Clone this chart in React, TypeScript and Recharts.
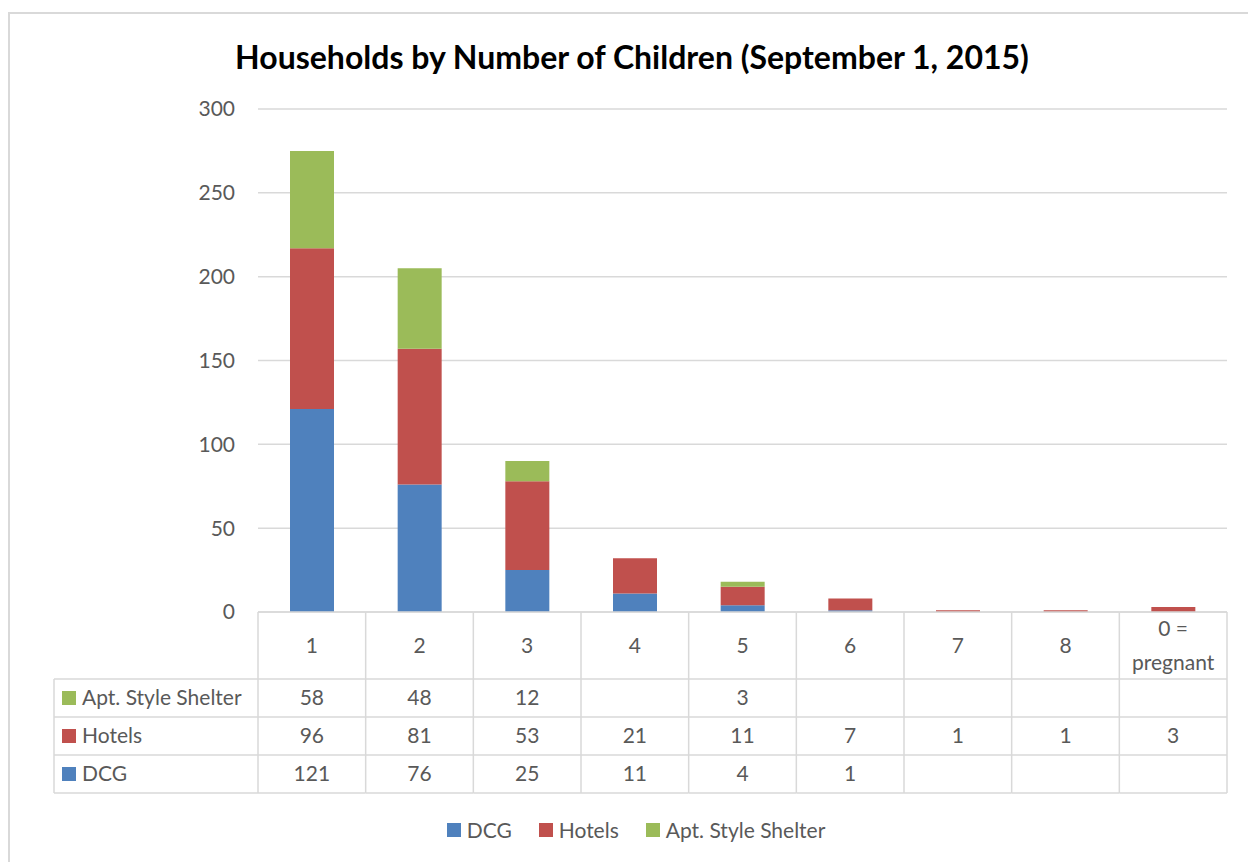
import { Bar, BarChart, CartesianGrid, Legend, XAxis, YAxis } from "recharts";

const categories = ["1", "2", "3", "4", "5", "6", "7", "8", "0 = pregnant"];
const dcg = [121, 76, 25, 11, 4, 1, null, null, null];
const hotels = [96, 81, 53, 21, 11, 7, 1, 1, 3];
const aptShelter = [58, 48, 12, null, 3, null, null, null, null];
const yTicks = [0, 50, 100, 150, 200, 250, 300];

const series = [
  { key: "dcg", name: "DCG", color: "#4F81BD", values: dcg },
  { key: "hotels", name: "Hotels", color: "#C0504D", values: hotels },
  { key: "apt", name: "Apt. Style Shelter", color: "#9BBB59", values: aptShelter },
];
// the data table lists the series top-down in reverse order
const tableRows = [...series].reverse();

const data = categories.map((c, i) => ({
  category: c,
  dcg: dcg[i],
  hotels: hotels[i],
  apt: aptShelter[i],
}));

const W = 1248;
const H = 862;
const PLOT_LEFT = 258;
const PLOT_RIGHT = 1227;
const HEADER_H = 67;
const ROW_H = 38;
const LABEL_COL_LEFT = 54;
const FONT = "Lato, 'Open Sans', sans-serif";
const FS = 21;
const TEXT = "#595959";
const LINE = "#d9d9d9";

function TableColumn(props: any) {
  const { x, y, index, payload } = props;
  const cw = (PLOT_RIGHT - PLOT_LEFT) / categories.length;
  const left = x - cw / 2;
  const right = x + cw / 2;
  const bottom = y + HEADER_H + ROW_H * tableRows.length;
  const label: string = payload.value;
  const parts = label.includes(" = ") ? [label.split(" = ")[0] + " =", label.split(" = ")[1]] : [label];
  const headerMid = y + HEADER_H / 2;

  return (
    <g fontFamily={FONT} fontSize={FS} fill={TEXT}>
      {index === 0 && <line x1={left} x2={left} y1={y} y2={bottom} stroke={LINE} strokeWidth={1.5} />}
      <line x1={right} x2={right} y1={y} y2={bottom} stroke={LINE} strokeWidth={1.5} />
      <line x1={left} x2={right} y1={y} y2={y} stroke={LINE} strokeWidth={1.5} />
      <line x1={left} x2={right} y1={y + HEADER_H} y2={y + HEADER_H} stroke={LINE} strokeWidth={1.5} />
      {parts.map((p, k) => (
        <text key={k} x={x} y={headerMid + (k - (parts.length - 1) / 2) * 34} textAnchor="middle" dy="0.35em" fill={TEXT}>
          {p}
        </text>
      ))}
      {tableRows.map((s, r) => {
        const top = y + HEADER_H + r * ROW_H;
        const v = s.values[index];
        return (
          <g key={s.key}>
            <line x1={left} x2={right} y1={top + ROW_H} y2={top + ROW_H} stroke={LINE} strokeWidth={1.5} />
            {v != null && (
              <text x={x} y={top + ROW_H / 2} textAnchor="middle" dy="0.35em" fill={TEXT}>
                {v}
              </text>
            )}
          </g>
        );
      })}
      {index === 0 && (
        <g>
          <line x1={LABEL_COL_LEFT} x2={LABEL_COL_LEFT} y1={y + HEADER_H} y2={bottom} stroke={LINE} strokeWidth={1.5} />
          <line x1={LABEL_COL_LEFT} x2={left} y1={y + HEADER_H} y2={y + HEADER_H} stroke={LINE} strokeWidth={1.5} />
          {tableRows.map((s, r) => {
            const top = y + HEADER_H + r * ROW_H;
            return (
              <g key={s.key}>
                <line x1={LABEL_COL_LEFT} x2={left} y1={top + ROW_H} y2={top + ROW_H} stroke={LINE} strokeWidth={1.5} />
                <rect x={LABEL_COL_LEFT + 8} y={top + ROW_H / 2 - 7} width={14} height={14} fill={s.color} />
                <text x={LABEL_COL_LEFT + 28} y={top + ROW_H / 2} dy="0.35em" fill={TEXT}>
                  {s.name}
                </text>
              </g>
            );
          })}
        </g>
      )}
    </g>
  );
}

function LegendContent(props: any) {
  const payload = props.payload || [];
  // keep the series order (DCG, Hotels, Apt.) rather than Recharts' sorting
  const items = series
    .map((s) => payload.find((p: any) => p.dataKey === s.key))
    .filter(Boolean);
  return (
    <div
      style={{
        display: "flex",
        justifyContent: "center",
        gap: 27,
        paddingLeft: 45,
        paddingTop: 16,
        height: 40,
        fontFamily: FONT,
        fontSize: FS,
        color: TEXT,
        lineHeight: "22px",
      }}
    >
      {items.map((it: any) => (
        <div key={it.value} style={{ display: "flex", alignItems: "center", gap: 6 }}>
          <span style={{ width: 14, height: 14, background: it.color, display: "inline-block" }} />
          <span>{it.value}</span>
        </div>
      ))}
    </div>
  );
}

export default function App() {
  return (
    <div style={{ position: "absolute", left: 0, top: 0, width: W, height: H, background: "#fff", overflow: "hidden" }}>
      <div
        style={{
          position: "absolute",
          left: 8,
          top: 12,
          width: 1300,
          height: 900,
          border: "2px solid #d9d9d9",
        }}
      />
      <div
        style={{
          position: "absolute",
          left: 0,
          top: 37,
          width: 1264,
          textAlign: "center",
          fontFamily: FONT,
          fontWeight: 700,
          fontSize: 32,
          lineHeight: "40px",
          color: "#000",
        }}
      >
        Households by Number of Children (September 1, 2015)
      </div>
      <div style={{ position: "absolute", left: 0, top: 0 }}>
        <BarChart width={W} height={H} data={data} margin={{ top: 109, right: 21, bottom: 12, left: 0 }} barSize={44}>
          <CartesianGrid vertical={false} stroke={LINE} strokeWidth={1.5} />
          <XAxis
            dataKey="category"
            axisLine={false}
            tickLine={false}
            tickSize={0}
            tickMargin={0}
            height={182}
            interval={0}
            tick={<TableColumn />}
          />
          <YAxis
            domain={[0, 300]}
            ticks={yTicks}
            width={258}
            axisLine={false}
            tickLine={false}
            tickSize={0}
            tickMargin={23}
            tick={{ fill: TEXT, fontSize: FS, fontFamily: FONT }}
          />
          <Legend verticalAlign="bottom" content={<LegendContent />} />
          {series.map((s) => (
            <Bar key={s.key} dataKey={s.key} name={s.name} stackId="a" fill={s.color} isAnimationActive={false} />
          ))}
        </BarChart>
      </div>
    </div>
  );
}
